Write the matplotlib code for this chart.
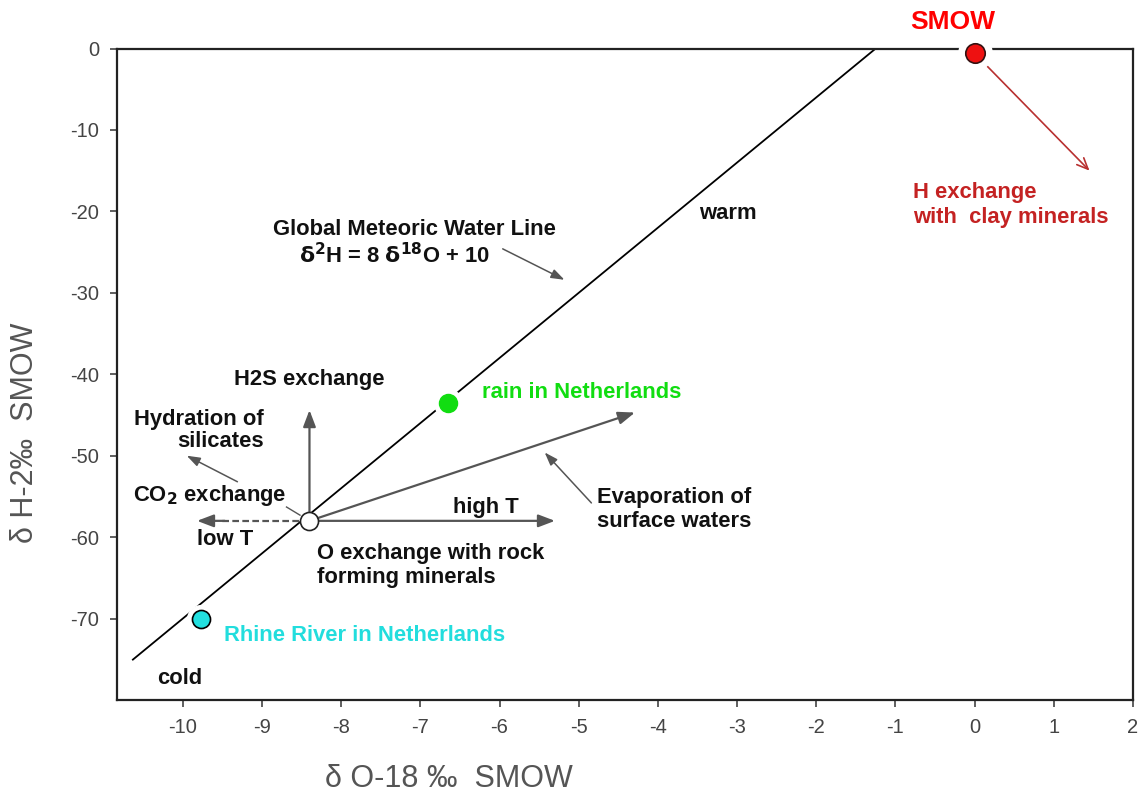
import matplotlib.pyplot as plt
import numpy as np
import matplotlib

matplotlib.rcParams['font.family'] = 'Liberation Sans'

# GMWL: d2H = 8 d18O + 10
gmwl_x = [-10.63, -1.25]
gmwl_slope = 8
gmwl_intercept = 10

# sample points (d18O, d2H)
smow = (0.0, -0.6)
rain_nl = (-6.65, -43.5)
rhine_nl = (-9.77, -70.0)
start_pt = (-8.4, -58.0)

# process arrows from the open circle: tips
h2s_tip = (-8.4, -44.4)
high_t_tip = (-5.3, -58.0)
low_t_tip = (-9.82, -58.0)
evap_tip = (-4.29, -44.7)
clay_tip = (1.45, -15.0)

# pointer arrows (tail, tip)
hydration = ((-9.31, -53.2), (-9.95, -50.0))
evap_ptr = ((-4.84, -55.8), (-5.43, -49.6))
gmwl_ptr = ((-5.96, -24.6), (-5.18, -28.4))

xticks = list(range(-10, 3))
yticks = list(range(0, -71, -10))

fig = plt.figure(figsize=(11.43, 7.98), dpi=100)
ax = fig.add_axes([0.1024, 0.1228, 0.8889, 0.8164])
ax.set_xlim(-10.83, 2.0)
ax.set_ylim(-80, 0)

for s in ax.spines.values():
    s.set_linewidth(1.6)
    s.set_color('#222222')

ax.set_xticks(xticks)
ax.set_xticklabels([str(t) for t in xticks])
ax.set_yticks(yticks)
ax.set_yticklabels([str(t) for t in yticks])
ax.tick_params(direction='out', length=5, width=1.2, color='#444444',
               labelsize=14.5, labelcolor='#444444', pad=8)

ax.set_xlabel("δ O-18 ‰  SMOW", fontsize=22, color='#555555')
ax.set_ylabel("δ H-2‰  SMOW", fontsize=22, color='#555555')
ax.xaxis.set_label_coords(0.327, -0.098)
ax.yaxis.set_label_coords(-0.076, 0.41)

# meteoric water line
xs = np.array(gmwl_x)
ax.plot(xs, gmwl_slope * xs + gmwl_intercept, color='black', lw=1.3, zorder=2)

gray = '#555555'
head = dict(arrowstyle='-|>,head_length=1.0,head_width=0.38', color=gray, lw=1.6,
            shrinkA=0, shrinkB=0)
thin = dict(arrowstyle='-|>,head_length=0.8,head_width=0.28', color=gray, lw=1.1,
            shrinkA=0, shrinkB=0)

for tip in [h2s_tip, high_t_tip, evap_tip]:
    ax.annotate('', xy=tip, xytext=start_pt, arrowprops=head, zorder=3)

# dashed low T arrow
ax.plot([start_pt[0], low_t_tip[0] + 0.3], [start_pt[1], low_t_tip[1]],
        color=gray, lw=1.6, ls=(0, (3, 1.5)), zorder=3)
ax.annotate('', xy=low_t_tip, xytext=(low_t_tip[0] + 0.35, low_t_tip[1]),
            arrowprops=head, zorder=3)

for tail, tip in [hydration, evap_ptr, gmwl_ptr]:
    ax.annotate('', xy=tip, xytext=tail, arrowprops=thin, zorder=3)

# small pointer from CO2 label
ax.plot([-8.69, -8.52], [-56.3, -57.3], color=gray, lw=1.0, zorder=3)

# red clay arrow
ax.annotate('', xy=clay_tip, xytext=smow,
            arrowprops=dict(arrowstyle='->,head_length=0.8,head_width=0.35',
                            color='#b83030', lw=1.2, shrinkA=6, shrinkB=0),
            zorder=3)

# markers (white halo behind)
ax.plot(*rain_nl, 'o', ms=20, color='white', zorder=4)
ax.plot(*rain_nl, 'o', ms=13, color='#11dd11', zorder=5)
ax.plot(*rhine_nl, 'o', ms=20, color='white', zorder=4)
ax.plot(*rhine_nl, 'o', ms=13, mfc='#22e0e0', mec='black', mew=1.2, zorder=5)
ax.plot(*start_pt, 'o', ms=13, mfc='white', mec='#222222', mew=1.2, zorder=5)
ax.plot(*smow, 'o', ms=24, color='white', zorder=6, clip_on=False)
ax.plot(*smow, 'o', ms=14, mfc='#ee1111', mec='#331111', mew=1.2, zorder=7, clip_on=False)

fs = 15.8
bold = dict(fontweight='bold', fontsize=fs, color='#111111')

ax.text(-0.28, 3.3, "SMOW", color='#ff0000', fontweight='bold', fontsize=19,
        ha='center', va='center', clip_on=False)
ax.text(-0.78, -19.2, "H exchange\nwith  clay minerals", color='#c42222',
        fontweight='semibold', fontsize=fs, ha='left', va='center', linespacing=1.25)
ax.text(-3.12, -20.3, "warm", ha='center', va='center', **bold)
ax.text(-7.07, -22.2, "Global Meteoric Water Line", ha='center', va='center', **bold)
ax.text(-7.32, -25.4, r"$\mathbf{\delta^{2}}$H = 8 $\mathbf{\delta^{18}}$O + 10",
        ha='center', va='center', **bold)
ax.text(-8.4, -40.7, "H2S exchange", ha='center', va='center', **bold)
ax.text(-6.22, -42.3, "rain in Netherlands", ha='left', va='center',
        fontweight='bold', fontsize=fs, color='#11dd11')
ax.text(-8.98, -46.9, "Hydration of\nsilicates", ha='right', va='center',
        multialignment='right', linespacing=1.05, **bold)
ax.text(-10.63, -54.9, r"CO$_\mathbf{2}$ exchange", ha='left', va='center', **bold)
ax.text(-9.82, -60.3, "low T", ha='left', va='center', **bold)
ax.text(-6.59, -56.3, "high T", ha='left', va='center', **bold)
ax.text(-8.31, -63.5, "O exchange with rock\nforming minerals", ha='left', va='center',
        linespacing=1.15, **bold)
ax.text(-4.77, -56.6, "Evaporation of\nsurface waters", ha='left', va='center',
        linespacing=1.15, **bold)
ax.text(-9.48, -72.1, "Rhine River in Netherlands", ha='left', va='center',
        fontweight='bold', fontsize=fs, color='#22dddd')
ax.text(-10.32, -77.4, "cold", ha='left', va='center', **bold)

plt.savefig("out.png", dpi=100)
